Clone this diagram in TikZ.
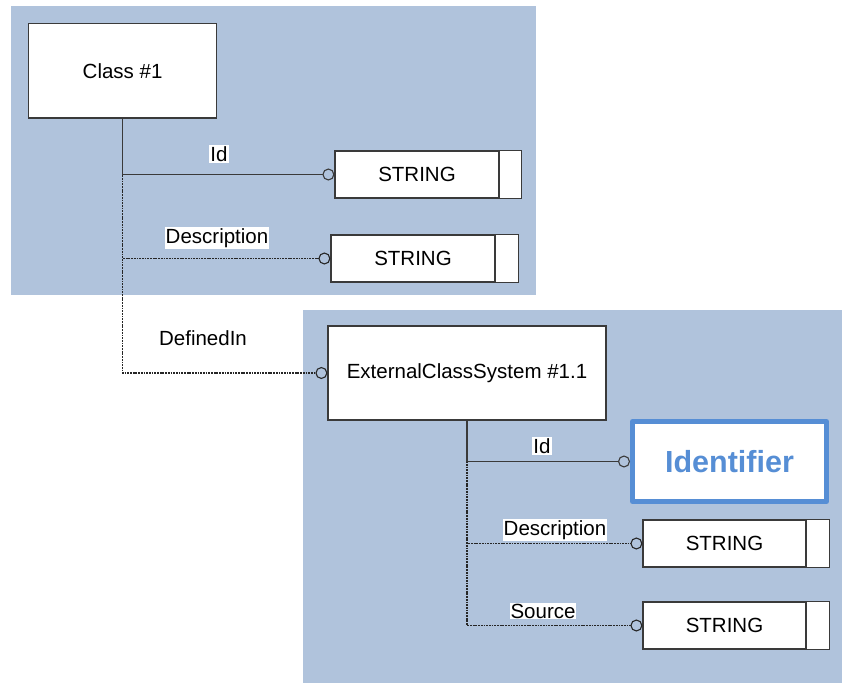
\documentclass[tikz,border=0pt]{standalone}
\usepackage{fontspec}
\setmainfont{Liberation Sans}
\usetikzlibrary{arrows.meta}
\definecolor{panel}{HTML}{B0C3DC}
\definecolor{idblue}{HTML}{568ED5}
\definecolor{edge}{HTML}{3A3A3A}
\tikzset{
  box/.style={draw=edge, line width=1.2pt, fill=white, inner sep=0pt, font=\fontsize{20.5}{24}\selectfont},
  tailbox/.style={draw=edge, line width=1.2pt, fill=white},
  lbl/.style={fill=white, inner sep=1pt, font=\fontsize{20.5}{24}\selectfont},
  solidc/.style={draw=edge, line width=1.3pt, -{Circle[open, length=12pt, width=12pt, line width=1.1pt]}},
  dotc/.style={draw=black!85, line width=1.1pt, dash pattern=on 1.8pt off 0.9pt, -{Circle[open, length=12pt, width=12pt, line width=1.1pt]}},
  idbox/.style={draw=idblue, line width=5pt, fill=white, line join=round, inner sep=0pt, text=idblue, font=\fontsize{30.5}{34}\selectfont\bfseries}
}
\begin{document}
\begin{tikzpicture}[x=1pt, y=-1pt]
\useasboundingbox (0,0) rectangle (842,684);
\fill[white] (0,0) rectangle (842,684);
% panels
\fill[panel] (11,6) rectangle (536,295);
\fill[panel] (303,310) rectangle (842,683);
% nodes
\node[box, minimum width=188pt, minimum height=94.5pt] (c1) at (122.6,70.7) {Class \#1};
\node[box, minimum width=164pt, minimum height=47pt] (s1) at (417,174.5) {STRING};
\draw[tailbox] (s1.north east) rectangle ([xshift=22pt]s1.south east);
\node[box, minimum width=164pt, minimum height=47pt] (s2) at (413,258.5) {STRING};
\draw[tailbox] (s2.north east) rectangle ([xshift=23pt]s2.south east);
\node[box, minimum width=278pt, minimum height=94pt] (ecs) at (467,373) {ExternalClassSystem \#1.1};
\node[idbox, minimum width=194pt, minimum height=80pt] (idf) at (729.5,461.5) {Identifier};
\node[box, minimum width=163pt, minimum height=47pt] (s3) at (724.5,543.5) {STRING};
\draw[tailbox] (s3.north east) rectangle ([xshift=23pt]s3.south east);
\node[box, minimum width=163pt, minimum height=47pt] (s4) at (724.5,625.5) {STRING};
\draw[tailbox] (s4.north east) rectangle ([xshift=23pt]s4.south east);
% connectors
\draw[dotc] (c1.south) |- (ecs.west);
\draw[dotc] (c1.south) |- (s2.west);
\draw[solidc] (c1.south) |- (s1.west);
\draw[dotc] (ecs.south) |- (s4.west);
\draw[dotc] (ecs.south) |- (s3.west);
\draw[solidc] (ecs.south) |- (idf.west);
% labels
\node[lbl] (l1) at (219,154) {Id};
\node[lbl] (l2) at (217,238) {Description};
\node[lbl] (l3) at (203,338) {DefinedIn};
\node[lbl] (l4) at (542,446) {Id};
\node[lbl] (l5) at (555,530) {Description};
\node[lbl] (l6) at (543,611) {Source};
\end{tikzpicture}
\end{document}
